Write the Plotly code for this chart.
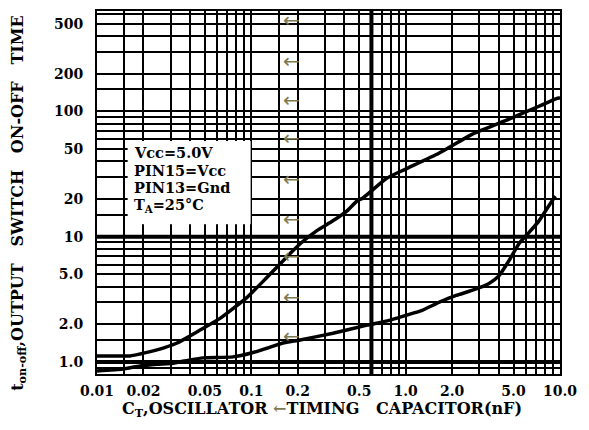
import plotly.graph_objects as go

# Timing capacitor C_T (nF) vs. output switch on/off time, two curves
upper_ct = [0.01, 0.0164, 0.019, 0.0245, 0.033, 0.0465, 0.0627, 0.0938, 0.126, 0.178,
            0.207, 0.266, 0.338, 0.417, 0.484, 0.529, 0.757, 1.0, 1.64, 2.69, 4.47,
            7.31, 9.56, 10.0]
upper_t = [1.12, 1.12, 1.16, 1.25, 1.42, 1.8, 2.23, 3.28, 4.73, 7.33,
           8.8, 11.2, 13.4, 16.1, 19.3, 20.4, 29.4, 34.7, 46.4, 65.7, 84.8,
           110, 127, 129]

lower_ct = [0.01, 0.0147, 0.019, 0.0245, 0.0311, 0.04, 0.0486, 0.0761, 0.1, 0.126,
            0.16, 0.207, 0.338, 0.562, 0.781, 1.0, 1.28, 1.64, 2.12, 2.69, 3.47,
            4.03, 4.67, 5.42, 6.29, 7.31, 8.87, 9.34]
lower_t = [0.85, 0.88, 0.93, 0.96, 0.98, 1.04, 1.08, 1.10, 1.18, 1.29,
           1.42, 1.5, 1.7, 1.97, 2.15, 2.36, 2.59, 2.99, 3.4, 3.73, 4.24,
           4.9, 6.45, 8.8, 10.8, 13.4, 19.3, 21.1]

# Axis tick values and their printed labels
x_ticks = [0.01, 0.02, 0.05, 0.1, 0.2, 0.5, 1, 2, 5, 10]
x_labels = ["0.01", "0.02", "0.05", "0.1", "0.2", "0.5", "1.0", "2.0", "5.0", "10.0"]
y_ticks = [1, 2, 5, 10, 20, 50, 100, 200, 500]
y_labels = ["1.0", "2.0", "5.0", "10", "20", "50", "100", "200", "500"]

# Test conditions printed inside the plot
conditions = ["Vcc=5.0V", "PIN15=Vcc", "PIN13=Gnd", "T<sub>A</sub>=25°C"]

# Pointer arrows along the C_T = 0.2 line
arrow_t = [518, 245, 120, 58.9, 27.8, 13.4, 6.8, 3.2, 1.55]

# Log grid: 1..9 per decade plus a few intermediate lines
x_grid = [m * 10.0 ** k for k in (-2, -1, 0) for m in range(1, 10)] + [10, 0.015, 0.15]
y_grid = [0.9] + [m * 10.0 ** k for k in (0, 1, 2) for m in range(1, 10) if m * 10.0 ** k <= 600] \
    + [1.5, 15, 150]

FONT = "DejaVu Serif"
OLIVE = "#7d7a52"

fig = go.Figure()
for xs, ys in ((upper_ct, upper_t), (lower_ct, lower_t)):
    fig.add_trace(go.Scatter(x=xs, y=ys, mode="lines",
                             line=dict(color="black", width=3.5, shape="spline", smoothing=0.5),
                             showlegend=False, hoverinfo="skip"))

fig.add_trace(go.Scatter(x=[0.182] * len(arrow_t), y=arrow_t, mode="text", text=["←"] * len(arrow_t),
                         textfont=dict(color=OLIVE, size=20, family="DejaVu Sans"),
                         showlegend=False, hoverinfo="skip"))

axis_common = dict(type="log", showline=True, linecolor="black", linewidth=2, mirror=True,
                   showgrid=True, gridcolor="black", gridwidth=2, ticks="", zeroline=False,
                   tickfont=dict(family=FONT, size=14, color="black", weight="bold"),
                   tickmode="array")

fig.update_xaxes(**axis_common, range=[-2, 1], tickvals=x_ticks, ticktext=x_labels,
                 ticklabelstandoff=3,
                 minor=dict(tickvals=x_grid, showgrid=True, gridcolor="black", gridwidth=2))
fig.update_yaxes(**axis_common, range=[-0.0952, 2.8016], tickvals=y_ticks, ticktext=y_labels,
                 ticklabelstandoff=9,
                 minor=dict(tickvals=y_grid, showgrid=True, gridcolor="black", gridwidth=2))

# Heavier reference lines
fig.add_shape(type="line", xref="x", yref="paper", x0=0.6, x1=0.6, y0=0, y1=1,
              line=dict(color="black", width=4), layer="below")
for yv in (1, 10):
    fig.add_shape(type="line", xref="paper", yref="y", x0=0, x1=1, y0=yv, y1=yv,
                  line=dict(color="black", width=4), layer="below")

# Condition box, blanking the grid behind the text
fig.add_shape(type="rect", xref="x", yref="y", x0=0.0158, x1=0.099, y0=12.6, y1=58,
              fillcolor="white", line=dict(width=0), layer="above")
for i, line in enumerate(conditions):
    fig.add_annotation(xref="paper", yref="paper", x=0.076, y=0.609 - i * 0.048,
                       xanchor="left", yanchor="middle", align="left", showarrow=False,
                       text=line, font=dict(family=FONT, size=14.5, color="black", weight="bold"))

# Axis titles
fig.add_annotation(xref="paper", yref="paper", x=0.486, y=-0.099, xanchor="center", yanchor="middle",
                   showarrow=False,
                   text="C<sub>T</sub>,OSCILLATOR <span style='color:" + OLIVE + "'>←</span>TIMING\u00a0\u00a0\u00a0CAPACITOR(nF)",
                   font=dict(family=FONT, size=16, color="black", weight="bold"))
fig.add_annotation(xref="paper", yref="paper", x=-0.171, y=0.471, xanchor="center", yanchor="middle",
                   showarrow=False, textangle=-90,
                   text="t<sub>on-off</sub>,OUTPUT\u00a0\u00a0\u00a0SWITCH\u00a0\u00a0\u00a0ON-OFF\u00a0\u00a0\u00a0TIME",
                   font=dict(family=FONT, size=16, color="black", weight="bold"))

fig.update_layout(width=589, height=430, margin=dict(l=97, r=29, t=9, b=56),
                  paper_bgcolor="white", plot_bgcolor="white", showlegend=False)

fig.write_html("out.html")
